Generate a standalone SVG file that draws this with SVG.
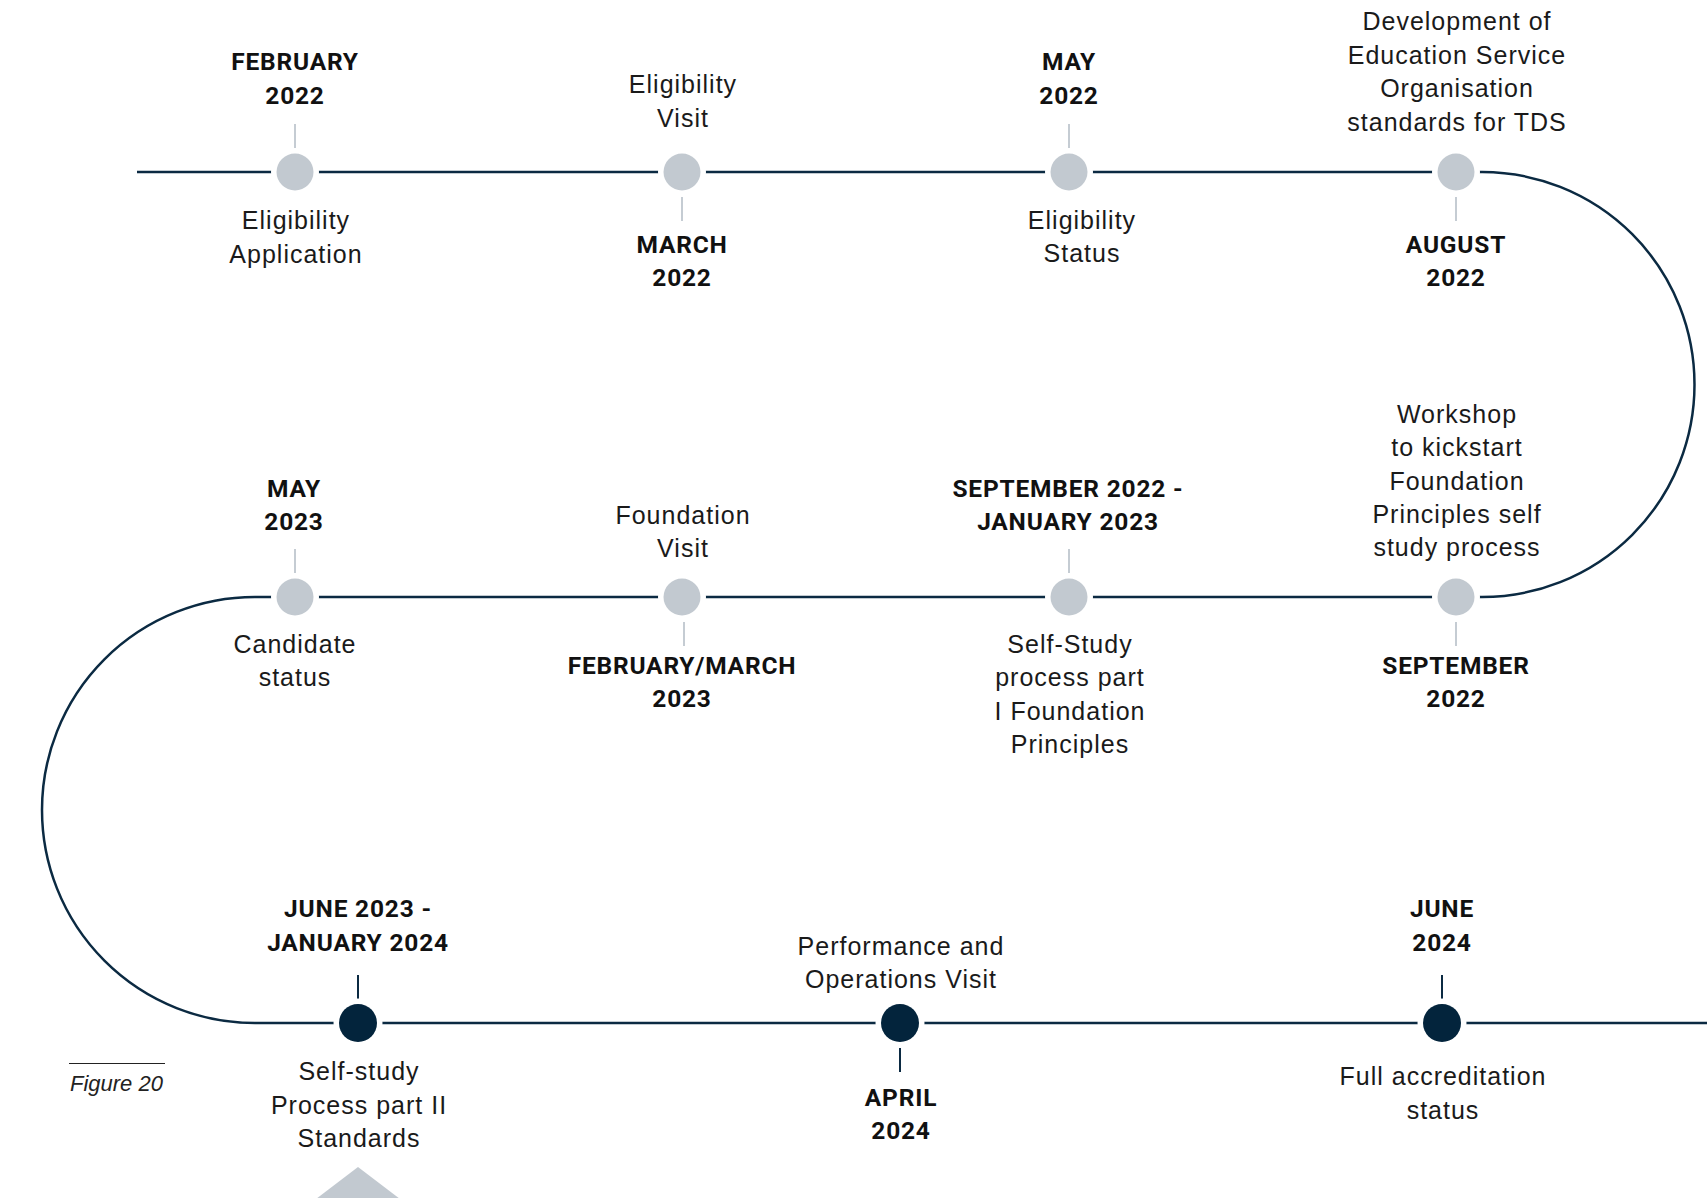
<svg xmlns="http://www.w3.org/2000/svg" width="1707" height="1198" viewBox="0 0 1707 1198">
<style>
.conn{fill:none;stroke:#0b2a42;stroke-width:2.5}
.tl{stroke:#c5ccd3;stroke-width:2}
.td{stroke:#0b2a42;stroke-width:2}
.nl{fill:#c2c9d0;stroke:#fff;stroke-width:11;paint-order:stroke}
.nd{fill:#03243c;stroke:#fff;stroke-width:11;paint-order:stroke}
.date{font-family:Roboto,"Liberation Sans",sans-serif;font-weight:700;font-size:24.5px;letter-spacing:0.8px;fill:#111;text-anchor:middle}
.desc{font-family:"Liberation Sans",Arial,sans-serif;font-size:25px;letter-spacing:1px;fill:#1a1a1a;text-anchor:middle}
.fig{font-family:"Liberation Sans",Arial,sans-serif;font-style:italic;font-size:22px;fill:#222}
</style>
<rect width="1707" height="1198" fill="#fff"/>
<g id="connectors">
<path class="conn" d="M137,172 H1482 A212.5,212.5 0 0 1 1482,597 H255 A213,213 0 0 0 255,1023 H1707"/>
</g>
<g id="n-feb2022">
<line class="tl" x1="295" y1="124" x2="295" y2="148"/>
<circle class="nl" cx="295" cy="172" r="18.5"/>
<text class="date" x="295" y="70">FEBRUARY</text>
<text class="date" x="295" y="104">2022</text>
<text class="desc" x="296" y="229">Eligibility</text>
<text class="desc" x="296" y="263">Application</text>
</g>
<g id="n-mar2022">
<line class="tl" x1="682" y1="197" x2="682" y2="221"/>
<circle class="nl" cx="682" cy="172" r="18.5"/>
<text class="desc" x="683" y="93">Eligibility</text>
<text class="desc" x="683" y="127">Visit</text>
<text class="date" x="682" y="253">MARCH</text>
<text class="date" x="682" y="286">2022</text>
</g>
<g id="n-may2022">
<line class="tl" x1="1069" y1="124" x2="1069" y2="148"/>
<circle class="nl" cx="1069" cy="172" r="18.5"/>
<text class="date" x="1069" y="70">MAY</text>
<text class="date" x="1069" y="104">2022</text>
<text class="desc" x="1082" y="229">Eligibility</text>
<text class="desc" x="1082" y="262">Status</text>
</g>
<g id="n-aug2022">
<line class="tl" x1="1456" y1="197" x2="1456" y2="221"/>
<circle class="nl" cx="1456" cy="172" r="18.5"/>
<text class="desc" x="1457" y="30">Development of</text>
<text class="desc" x="1457" y="63.5">Education Service</text>
<text class="desc" x="1457" y="97">Organisation</text>
<text class="desc" x="1457" y="130.5">standards for TDS</text>
<text class="date" x="1456" y="253">AUGUST</text>
<text class="date" x="1456" y="286">2022</text>
</g>
<g id="n-sep2022">
<line class="tl" x1="1456" y1="622" x2="1456" y2="646"/>
<circle class="nl" cx="1456" cy="597" r="18.5"/>
<text class="desc" x="1457" y="423">Workshop</text>
<text class="desc" x="1457" y="456.3">to kickstart</text>
<text class="desc" x="1457" y="489.7">Foundation</text>
<text class="desc" x="1457" y="523">Principles self</text>
<text class="desc" x="1457" y="556.3">study process</text>
<text class="date" x="1456" y="674">SEPTEMBER</text>
<text class="date" x="1456" y="707">2022</text>
</g>
<g id="n-sep2022-jan2023">
<line class="tl" x1="1069" y1="549" x2="1069" y2="573"/>
<circle class="nl" cx="1069" cy="597" r="18.5"/>
<text class="date" x="1068" y="497">SEPTEMBER 2022 -</text>
<text class="date" x="1068" y="530">JANUARY 2023</text>
<text class="desc" x="1070" y="653">Self-Study</text>
<text class="desc" x="1070" y="686">process part</text>
<text class="desc" x="1070" y="719.5">I Foundation</text>
<text class="desc" x="1070" y="753">Principles</text>
</g>
<g id="n-febmar2023">
<line class="tl" x1="684" y1="622" x2="684" y2="646"/>
<circle class="nl" cx="682" cy="597" r="18.5"/>
<text class="desc" x="683" y="524">Foundation</text>
<text class="desc" x="683" y="557">Visit</text>
<text class="date" x="682" y="674">FEBRUARY/MARCH</text>
<text class="date" x="682" y="707">2023</text>
</g>
<g id="n-may2023">
<line class="tl" x1="295" y1="549" x2="295" y2="573"/>
<circle class="nl" cx="295" cy="597" r="18.5"/>
<text class="date" x="294" y="497">MAY</text>
<text class="date" x="294" y="530">2023</text>
<text class="desc" x="295" y="653">Candidate</text>
<text class="desc" x="295" y="686">status</text>
</g>
<g id="n-jun2023-jan2024">
<line class="td" x1="358" y1="975" x2="358" y2="999"/>
<circle class="nd" cx="358" cy="1023" r="19"/>
<text class="date" x="358" y="917">JUNE 2023 -</text>
<text class="date" x="358" y="951">JANUARY 2024</text>
<text class="desc" x="359" y="1080">Self-study</text>
<text class="desc" x="359" y="1113.5">Process part II</text>
<text class="desc" x="359" y="1147">Standards</text>
</g>
<g id="n-apr2024">
<line class="td" x1="900" y1="1048" x2="900" y2="1072"/>
<circle class="nd" cx="900" cy="1023" r="19"/>
<text class="desc" x="901" y="955">Performance and</text>
<text class="desc" x="901" y="988">Operations Visit</text>
<text class="date" x="901" y="1106">APRIL</text>
<text class="date" x="901" y="1139">2024</text>
</g>
<g id="n-jun2024">
<line class="td" x1="1442" y1="975" x2="1442" y2="999"/>
<circle class="nd" cx="1442" cy="1023" r="19"/>
<text class="date" x="1442" y="917">JUNE</text>
<text class="date" x="1442" y="951">2024</text>
<text class="desc" x="1443" y="1085">Full accreditation</text>
<text class="desc" x="1443" y="1118.5">status</text>
</g>
<g id="figure-label">
<line x1="69" y1="1063.5" x2="165" y2="1063.5" stroke="#222" stroke-width="1"/>
<text class="fig" x="70" y="1091">Figure 20</text>
</g>
<polygon points="358,1167 316,1199 400,1199" fill="#c2c9d0"/>
</svg>
